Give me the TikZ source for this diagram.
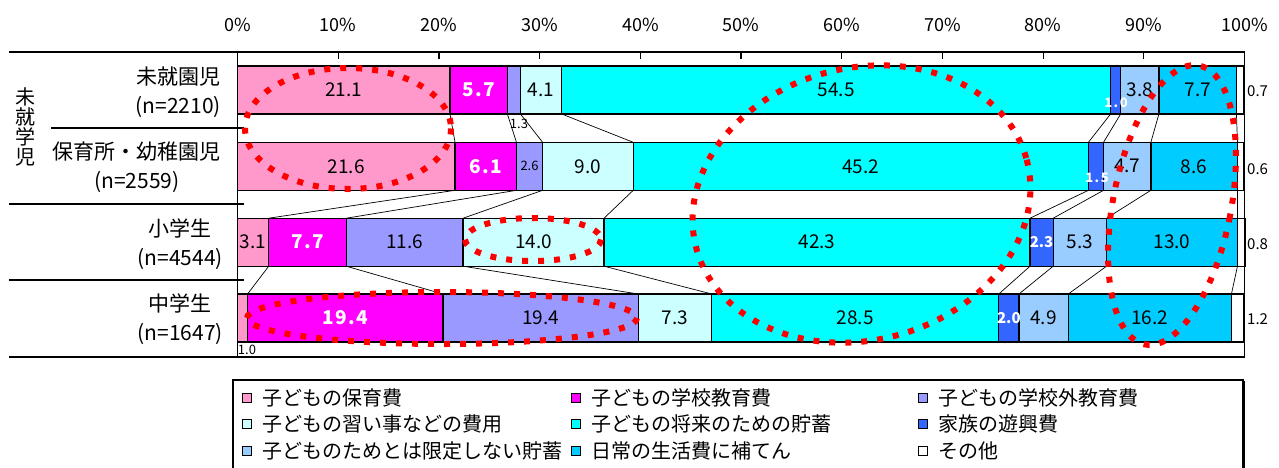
\documentclass[tikz,border=0pt]{standalone}
\usepackage{fontspec}
\setmainfont{Noto Sans CJK JP}
\definecolor{cA}{HTML}{FF99CC}
\definecolor{cB}{HTML}{FF00FF}
\definecolor{cC}{HTML}{9999FF}
\definecolor{cD}{HTML}{CCFFFF}
\definecolor{cE}{HTML}{00FFFF}
\definecolor{cF}{HTML}{3366FF}
\definecolor{cG}{HTML}{99CCFF}
\definecolor{cH}{HTML}{00CCFF}
\begin{document}
\begin{tikzpicture}[x=1pt,y=-1pt,
 seg/.style={draw=black, line width=1.3pt, inner sep=0pt, outer sep=0pt, minimum height=48pt, anchor=west},
 series/.style={draw=black, line width=0.7pt},
 frame/.style={draw=black, line width=1.8pt},
 num/.style={font=\fontsize{19}{19}\selectfont, inner sep=0pt},
 wnum/.style={font=\fontsize{19}{19}\selectfont\bfseries\addfontfeature{LetterSpace=8}, text=white, inner sep=0pt},
 wmid/.style={font=\fontsize{15}{15}\selectfont\bfseries, text=white, inner sep=0pt},
 wsmall/.style={font=\fontsize{13}{13}\selectfont\bfseries\addfontfeature{LetterSpace=12}, text=white, inner sep=0pt},
 small/.style={font=\fontsize{13}{13}\selectfont, inner sep=0pt},
 side/.style={font=\fontsize{15}{15}\selectfont, inner sep=0pt, anchor=west},
 axislab/.style={font=\fontsize{18}{18}\selectfont, inner sep=0pt},
 rowlab/.style={font=\fontsize{21}{29}\selectfont, align=center, inner sep=0pt, anchor=east},
 legsq/.style={draw=black, line width=0.8pt, minimum size=9pt, inner sep=0pt},
 legtxt/.style={font=\fontsize{20}{20}\selectfont, inner sep=0pt, anchor=west},
 redring/.style={draw=red, line width=6pt, dash pattern=on 6pt off 10pt}
]
\useasboundingbox (0,0) rectangle (1279,467);

% bar segments
\foreach \r/\yc/\lst in {
 1/90/{0/21.1/cA,21.1/5.7/cB,26.8/1.3/cC,28.1/4.1/cD,32.2/54.5/cE,86.7/1.0/cF,87.7/3.8/cG,91.5/7.7/cH,99.2/0.7/white},
 2/166.3/{0/21.6/cA,21.6/6.1/cB,27.7/2.6/cC,30.3/9.0/cD,39.3/45.2/cE,84.5/1.5/cF,86.0/4.7/cG,90.7/8.6/cH,99.3/0.6/white},
 3/242.2/{0/3.1/cA,3.1/7.7/cB,10.8/11.6/cC,22.4/14.0/cD,36.4/42.3/cE,78.7/2.3/cF,81.0/5.3/cG,86.3/13.0/cH,99.3/0.8/white},
 4/318/{0/1.0/cA,1.0/19.4/cB,20.4/19.4/cC,39.8/7.3/cD,47.1/28.5/cE,75.6/2.0/cF,77.6/4.9/cG,82.5/16.2/cH,98.7/1.2/white}}
{
  \foreach \s/\w/\c [count=\k] in \lst {
    \node[seg, fill=\c, minimum width={\w*10.07pt}] (r\r-\k) at ({237.5+\s*10.07},\yc) {};
  }
}

% series lines
\foreach \r in {1,2,3} {
  \pgfmathtruncatemacro\rn{\r+1}
  \foreach \k in {1,...,8} {
    \draw[series] (r\r-\k.south east) -- (r\rn-\k.north east);
  }
}

% segment labels
\foreach \r/\k/\t/\st in {
 1/1/21.1/num, 1/2/5.7/wnum, 1/4/4.1/num, 1/5/54.5/num, 1/7/3.8/num, 1/8/7.7/num,
 2/1/21.6/num, 2/2/6.1/wnum, 2/3/2.6/small, 2/4/9.0/num, 2/5/45.2/num, 2/7/4.7/num, 2/8/8.6/num,
 3/1/3.1/num, 3/2/7.7/wnum, 3/3/11.6/num, 3/4/14.0/num, 3/5/42.3/num, 3/6/2.3/wmid, 3/7/5.3/num, 3/8/13.0/num,
 4/2/19.4/wnum, 4/3/19.4/num, 4/4/7.3/num, 4/5/28.5/num, 4/6/2.0/wmid, 4/7/4.9/num, 4/8/16.2/num}
{
  \node[\st] (t\r-\k) at (r\r-\k) {\t};
}
\node[small] (t1-3) at (519,124) {1.3};
\node[wsmall] (t1-6) at (1116,103) {1.0};
\node[wsmall] (t2-6) at (1097,178) {1.5};
\node[small] (t4-1) at (247,350) {1.0};
\node[side] (t1-9) at (1247,91) {0.7};
\node[side] (t2-9) at (1247,169) {0.6};
\node[side] (t3-9) at (1247,244) {0.8};
\node[side] (t4-9) at (1247,319) {1.2};

% frame
\draw[frame] (9,52) -- (1244.5,52) -- (1244.5,357) -- (9,357);
\draw[frame] (237.5,52) -- (237.5,357);
\draw[frame] (51,128) -- (244,128);
\draw[frame] (9,204) -- (244,204);
\draw[frame] (9,280) -- (244,280);
\foreach \i in {1,...,9} {
  \draw[black, line width=1.2pt] ({237.5+100.7*\i},52) -- ++(0,7);
}
\foreach \i in {0,...,10} {
  \pgfmathtruncatemacro\pc{10*\i}
  \node[axislab] (p\i) at ({237.5+100.7*\i},25) {\pc\%};
}

% row labels
\node[font=\fontsize{20}{20}\selectfont, align=center, inner sep=0pt] (grp) at (25,127) {未\\就\\学\\児};
\node[rowlab] (l1) at (221,92.5) {未就園児\\(n=2210)};
\node[rowlab] (l2) at (221,167.5) {保育所・幼稚園児\\(n=2559)};
\node[rowlab] (l3) at (223,244) {小学生\\(n=4544)};
\node[rowlab] (l4) at (223,319) {中学生\\(n=1647)};

% legend
\draw[black, line width=1.5pt] (233,380) rectangle (1243,480);
\draw[black, line width=3pt] (1243.5,381) -- (1243.5,480);
\foreach \xs/\xt/\yy/\c/\t [count=\n] in {
 247/262/398/cA/子どもの保育費,
 247/262/424/cD/子どもの習い事などの費用,
 247/262/451/cG/子どものためとは限定しない貯蓄,
 576/591/398/cB/子どもの学校教育費,
 576/591/424/cE/子どもの将来のための貯蓄,
 576/591/451/cH/日常の生活費に補てん,
 923/938/398/cC/子どもの学校外教育費,
 923/938/424/cF/家族の遊興費,
 923/938/451/white/その他}
{
  \node[legsq, fill=\c] (lq\n) at (\xs,\yy) {};
  \node[legtxt] (lt\n) at (\xt,\yy) {\t};
}

% red dotted ellipses
\draw[redring] (348,128.5) ellipse [x radius=103, y radius=60.5];
\draw[redring] (533,239.5) ellipse [x radius=68, y radius=21.5];
\draw[redring] (442,318) ellipse [x radius=195, y radius=26];
\draw[redring, rotate around={15:(861.5,204)}] (861.5,204) ellipse [x radius=171, y radius=136];
\draw[redring, rotate around={-11:(1172,205)}] (1172,205) ellipse [x radius=59, y radius=142];
\end{tikzpicture}
\end{document}
